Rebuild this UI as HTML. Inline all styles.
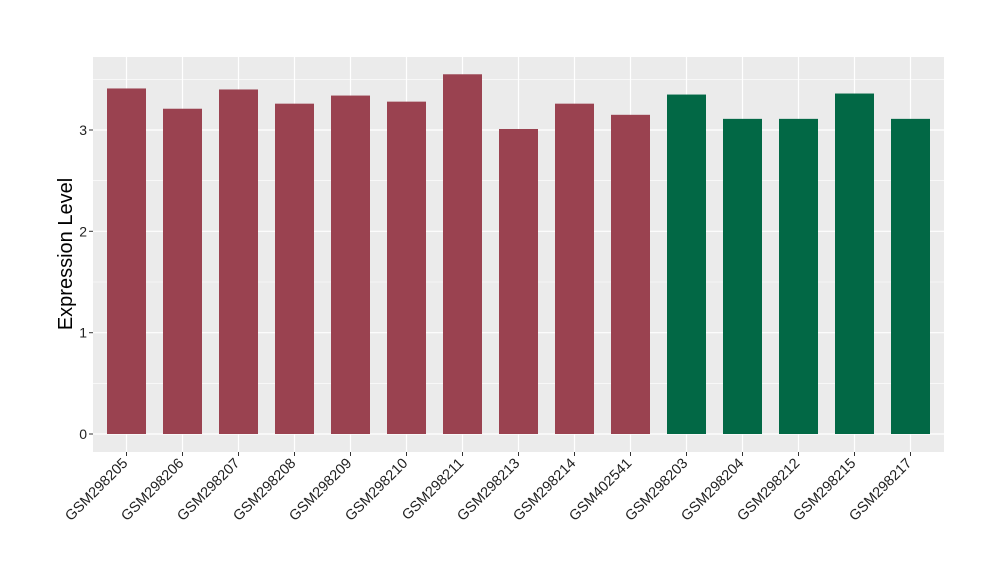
<!DOCTYPE html>
<html><head><style>body{margin:0;background:#fff}</style></head><body>
<svg width="1000" height="580" xmlns="http://www.w3.org/2000/svg" font-family="Liberation Sans, sans-serif">
<rect x="93" y="57" width="851" height="395" fill="#EBEBEB"/>
<g stroke="#fff" stroke-width="0.6">
<line x1="93" x2="944" y1="383.3" y2="383.3"/><line x1="93" x2="944" y1="282" y2="282"/><line x1="93" x2="944" y1="180.7" y2="180.7"/><line x1="93" x2="944" y1="79.3" y2="79.3"/>
</g>
<g stroke="#fff" stroke-width="1.2">
<line x1="93" x2="944" y1="434" y2="434"/><line x1="93" x2="944" y1="332.7" y2="332.7"/><line x1="93" x2="944" y1="231.3" y2="231.3"/><line x1="93" x2="944" y1="130" y2="130"/>
<g id="vx"></g>
</g>
<g id="bars"></g>
<g font-size="14" fill="#222" text-anchor="end">
<text x="87" y="439">0</text><text x="87" y="337.7">1</text><text x="87" y="236.3">2</text><text x="87" y="135">3</text>
</g>
<g stroke="#333" stroke-width="1">
<line x1="89" x2="93" y1="434" y2="434"/><line x1="89" x2="93" y1="332.7" y2="332.7"/><line x1="89" x2="93" y1="231.3" y2="231.3"/><line x1="89" x2="93" y1="130" y2="130"/>
</g>
<g id="labs" font-size="14.5" fill="#222" text-anchor="end"></g>
<text transform="translate(72,254) rotate(-90)" font-size="20" text-anchor="middle" fill="#000">Expression Level</text>
<script>
var v=[3.41,3.21,3.40,3.26,3.34,3.28,3.55,3.01,3.26,3.15,3.35,3.11,3.11,3.36,3.11];
var n=["GSM298205","GSM298206","GSM298207","GSM298208","GSM298209","GSM298210","GSM298211","GSM298213","GSM298214","GSM402541","GSM298203","GSM298204","GSM298212","GSM298215","GSM298217"];
var ns="http://www.w3.org/2000/svg",b=document.getElementById("bars"),l=document.getElementById("labs"),vx=document.getElementById("vx");
var s=document.querySelector("svg");
for(var i=0;i<15;i++){var c=126.5+56*i;
var g=document.createElementNS(ns,"line");g.setAttribute("x1",c);g.setAttribute("x2",c);g.setAttribute("y1",57);g.setAttribute("y2",452);vx.appendChild(g);
var r=document.createElementNS(ns,"rect");var h=v[i]*101.33;r.setAttribute("x",c-19.5);r.setAttribute("width",39);r.setAttribute("y",434-h);r.setAttribute("height",h);r.setAttribute("fill",i<10?"#9A4250":"#026845");b.appendChild(r);
var t=document.createElementNS(ns,"line");t.setAttribute("x1",c);t.setAttribute("x2",c);t.setAttribute("y1",452);t.setAttribute("y2",456);t.setAttribute("stroke","#333");s.appendChild(t);
var x=document.createElementNS(ns,"text");x.setAttribute("transform","translate("+(c+2)+",464) rotate(-45)");x.textContent=n[i];l.appendChild(x);}
</script>
</svg>
</body></html>
